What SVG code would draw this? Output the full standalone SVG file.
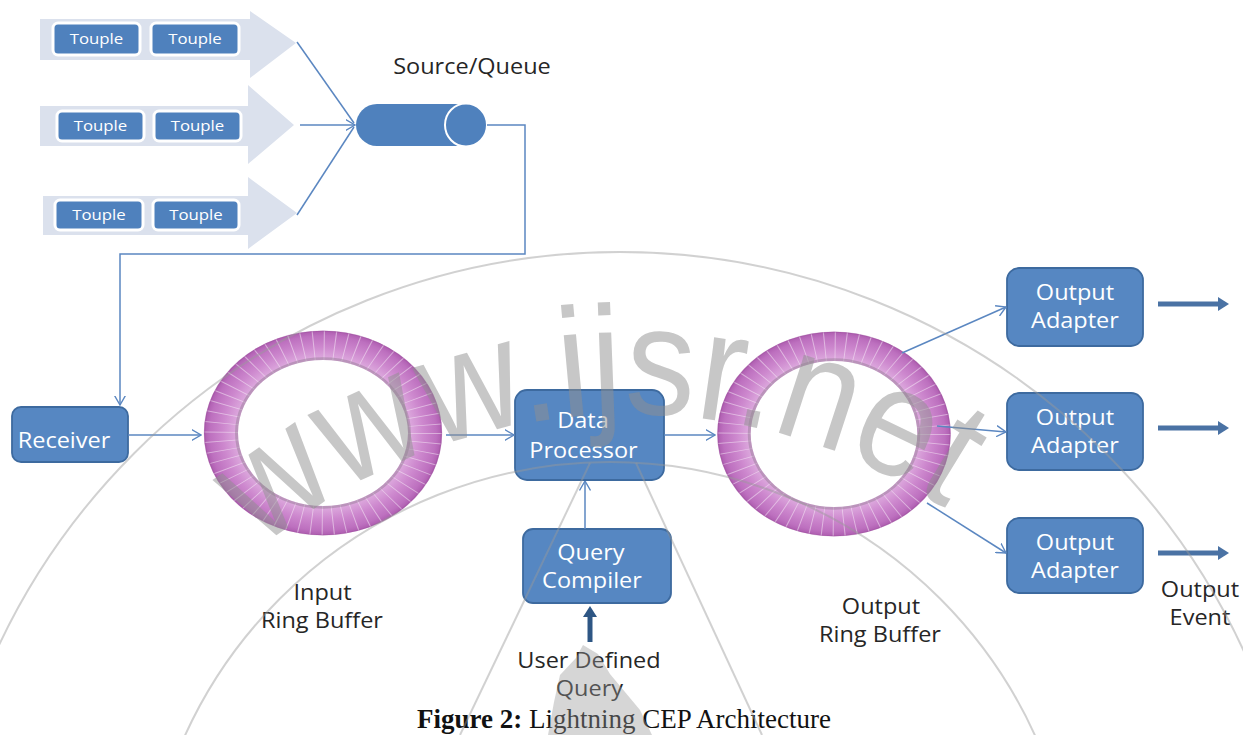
<svg xmlns="http://www.w3.org/2000/svg" width="1243" height="735" viewBox="0 0 1243 735">
<style>
.band{fill:#dbe1ed}
.tb{fill:#4f81bd;stroke:#ffffff;stroke-width:3}
.tt{font-family:"Open Sans","Liberation Sans",sans-serif;font-size:15px;fill:#ffffff;text-anchor:middle;transform:scaleX(1.12);transform-box:fill-box;transform-origin:center}
.box{fill:#5687c2;stroke:#3d6a9f;stroke-width:1.8}
.bt{font-family:"Open Sans","Liberation Sans",sans-serif;font-size:21px;fill:#ffffff;text-anchor:middle;transform:scaleX(1.12);transform-box:fill-box;transform-origin:center}
.lbl{font-family:"Open Sans","Liberation Sans",sans-serif;font-size:21px;fill:#262626;text-anchor:middle;transform:scaleX(1.12);transform-box:fill-box;transform-origin:center}
.cn{fill:none;stroke:#5b87c1;stroke-width:1.5}
.thick{fill:none;stroke:#4a72a4;stroke-width:5}
.wm{fill:none;stroke:#999999;stroke-opacity:0.45;stroke-width:2}
</style>
<defs>
<marker id="arr" viewBox="0 0 10 12" refX="9.5" refY="6" markerWidth="10" markerHeight="12" markerUnits="userSpaceOnUse" orient="auto">
<path d="M0,0.5 L9.5,6 L0,11.5" fill="none" stroke="#5b87c1" stroke-width="1.4"/>
</marker>
<marker id="arrF" viewBox="0 0 11 14" refX="0" refY="7" markerWidth="11" markerHeight="14" markerUnits="userSpaceOnUse" orient="auto">
<path d="M0,0 L11,7 L0,14 Z" fill="#4a72a4"/>
</marker>
<marker id="arrD" viewBox="0 0 11 14" refX="0" refY="7" markerWidth="11" markerHeight="14" markerUnits="userSpaceOnUse" orient="auto">
<path d="M0,0 L11,7 L0,14 Z" fill="#2e5684"/>
</marker>
<radialGradient id="ringGrad" gradientUnits="userSpaceOnUse" cx="0" cy="0" r="119">
<stop offset="0.71" stop-color="#dfaee0"/>
<stop offset="0.84" stop-color="#cd88ce"/>
<stop offset="0.95" stop-color="#bd70bf"/>
<stop offset="1" stop-color="#ad5caf"/>
</radialGradient>
<g id="ring">
<path d="M-119,0 a119,119 0 1,0 238,0 a119,119 0 1,0 -238,0 Z M-85,0 a85,85 0 1,0 170,0 a85,85 0 1,0 -170,0 Z" fill="url(#ringGrad)" fill-rule="evenodd"/>
<circle r="102" fill="none" stroke="#ffffff" stroke-opacity="0.45" stroke-width="34" stroke-dasharray="1 9.68"/>
<circle r="86.5" fill="none" stroke="#7a6a7a" stroke-opacity="0.35" stroke-width="3"/>
<circle r="118.5" fill="none" stroke="#9a4f9c" stroke-opacity="0.35" stroke-width="1.5"/>
</g>
<path id="wmArc" d="M192,618 A572,572 0 0,1 1068,618"/>
</defs>
<rect width="1243" height="735" fill="#ffffff"/>

<g id="stream1">
<polygon class="band" points="40,19 250,19 250,11 296,43 250,78 250,60 40,60"/>
<rect class="tb" x="53" y="23" width="87" height="32" rx="5"/>
<rect class="tb" x="151" y="23" width="88" height="32" rx="5"/>
<text class="tt" x="96.5" y="44.5">Touple</text>
<text class="tt" x="195" y="44.5">Touple</text>
</g>
<g id="stream2">
<polygon class="band" points="40,106 248,106 248,85 294,125 248,164 248,146 40,146"/>
<rect class="tb" x="57" y="111" width="87" height="30" rx="5"/>
<rect class="tb" x="154" y="111" width="87" height="30" rx="5"/>
<text class="tt" x="100.5" y="131">Touple</text>
<text class="tt" x="197.5" y="131">Touple</text>
</g>
<g id="stream3">
<polygon class="band" points="43,196 248,196 248,177 297,213 248,249 248,235 43,235"/>
<rect class="tb" x="55" y="200" width="88" height="30" rx="5"/>
<rect class="tb" x="153" y="200" width="86" height="30" rx="5"/>
<text class="tt" x="99" y="220">Touple</text>
<text class="tt" x="196" y="220">Touple</text>
</g>

<g id="queue">
<rect x="356" y="104" width="120" height="42" rx="21" fill="#4f81bd"/>
<ellipse cx="466" cy="125" rx="21" ry="21.5" fill="#4f81bd" stroke="#ffffff" stroke-width="2"/>
<text class="lbl" x="472" y="74">Source/Queue</text>
</g>

<g id="receiver">
<rect class="box" x="12" y="407" width="116" height="55" rx="9"/>
<text class="bt" x="64" y="448">Receiver</text>
</g>

<g id="input-ring">
<use href="#ring" transform="translate(323,433) scale(1,0.86)"/>
<text class="lbl" x="322.5" y="600">Input</text>
<text class="lbl" x="322" y="628">Ring Buffer</text>
</g>

<g id="data-processor">
<rect class="box" x="515" y="390" width="149" height="90" rx="12"/>
<text class="bt" x="583" y="428">Data</text>
<text class="bt" x="583.5" y="458">Processor</text>
</g>

<g id="query-compiler">
<rect class="box" x="523" y="529" width="148" height="74" rx="10"/>
<text class="bt" x="591" y="560">Query</text>
<text class="bt" x="592" y="588">Compiler</text>
</g>

<g id="user-query">
<text class="lbl" x="589" y="668">User Defined</text>
<text class="lbl" x="589.5" y="696">Query</text>
</g>

<g id="output-ring">
<use href="#ring" transform="translate(834,434) scale(0.98,0.86)"/>
<text class="lbl" x="881" y="614">Output</text>
<text class="lbl" x="880" y="642">Ring Buffer</text>
</g>

<g id="output-adapter-1">
<rect class="box" x="1007" y="268" width="136" height="78" rx="12"/>
<text class="bt" x="1075" y="300">Output</text>
<text class="bt" x="1075" y="328">Adapter</text>
</g>
<g id="output-adapter-2">
<rect class="box" x="1007" y="393" width="136" height="77" rx="12"/>
<text class="bt" x="1075" y="425">Output</text>
<text class="bt" x="1075" y="453">Adapter</text>
</g>
<g id="output-adapter-3">
<rect class="box" x="1007" y="518" width="136" height="75" rx="12"/>
<text class="bt" x="1075" y="550">Output</text>
<text class="bt" x="1075" y="578">Adapter</text>
</g>

<g id="output-event">
<text class="lbl" x="1200" y="597">Output</text>
<text class="lbl" x="1200" y="625">Event</text>
</g>

<g id="connectors">
<line class="cn" x1="297" y1="42" x2="354" y2="123"/>
<line class="cn" x1="300" y1="125" x2="355" y2="125" marker-end="url(#arr)"/>
<line class="cn" x1="297" y1="215" x2="354" y2="127"/>
<polyline class="cn" points="487,125 525,125 525,254 120,254 120,405" marker-end="url(#arr)"/>
<line class="cn" x1="128" y1="435" x2="201" y2="435" marker-end="url(#arr)"/>
<line class="cn" x1="446" y1="435" x2="514" y2="435" marker-end="url(#arr)"/>
<line class="cn" x1="664" y1="435" x2="715" y2="435" marker-end="url(#arr)"/>
<line class="cn" x1="585" y1="529" x2="585" y2="481" marker-end="url(#arr)"/>
<line class="cn" x1="902" y1="353" x2="1006" y2="307" marker-end="url(#arr)"/>
<line class="cn" x1="937" y1="426" x2="1006" y2="432" marker-end="url(#arr)"/>
<line class="cn" x1="927" y1="503" x2="1006" y2="553" marker-end="url(#arr)"/>
<line class="thick" x1="1158" y1="304" x2="1218" y2="304" marker-end="url(#arrF)"/>
<line class="thick" x1="1158" y1="428" x2="1218" y2="428" marker-end="url(#arrF)"/>
<line class="thick" x1="1158" y1="553" x2="1218" y2="553" marker-end="url(#arrF)"/>
<line x1="590" y1="642" x2="590" y2="617" stroke="#2e5684" stroke-width="5" marker-end="url(#arrD)"/>
</g>

<g id="caption">
<text x="624" y="728" font-family="'Liberation Serif','Times New Roman',serif" font-size="27" fill="#111111" text-anchor="middle"><tspan font-weight="bold">Figure 2:</tspan> Lightning CEP Architecture</text>
</g>

<g id="watermark">
<circle class="wm" cx="620" cy="939" r="687"/>
<circle class="wm" cx="610" cy="929" r="467"/>
<line class="wm" x1="590" y1="463" x2="460" y2="735"/>
<line class="wm" x1="636" y1="463" x2="762" y2="735"/>
<polygon points="583,645 598,654 610,674 640,710 652,735 548,735 554,702 560,675 576,658" fill="#999999" fill-opacity="0.4"/>
<text font-family="'Liberation Sans',Arial,sans-serif" font-size="155" fill="#909090" fill-opacity="0.5"><textPath href="#wmArc" startOffset="98" textLength="735" lengthAdjust="spacingAndGlyphs">www.ijsr.net</textPath></text>
</g>
</svg>
